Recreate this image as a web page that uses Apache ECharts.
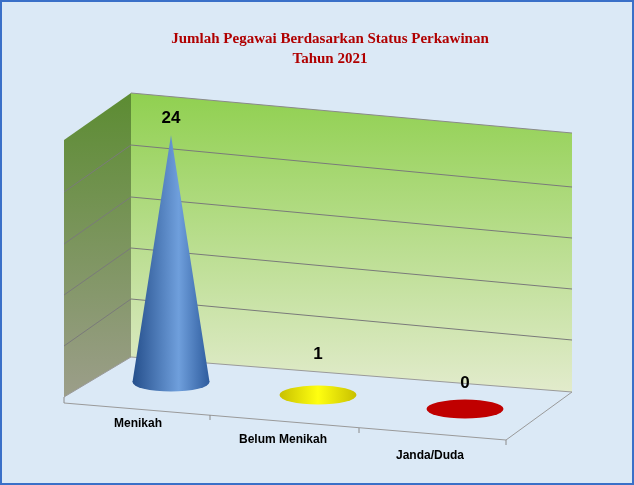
<!DOCTYPE html>
<html><head><meta charset="utf-8">
<script src="https://cdn.jsdelivr.net/npm/echarts@6/dist/echarts.min.js"></script>
<style>html,body{margin:0;padding:0;}#c{width:634px;height:485px;}</style>
</head><body><div id="c"></div>
<script>
const categories = ['Menikah', 'Belum Menikah', 'Janda/Duda'];
const values = [24, 1, 0];
const titleLines = ['Jumlah Pegawai Berdasarkan Status Perkawinan', 'Tahun 2021'];

const chart = echarts.init(document.getElementById('c'));
const lg = (c0, c1, x) => new echarts.graphic.LinearGradient(0, 0, x ? 1 : 0, x ? 0 : 1, [{offset:0,color:c0},{offset:1,color:c1}]);
const coneGrad = new echarts.graphic.LinearGradient(0,0,1,0,[{offset:0,color:'#254f8c'},{offset:0.6,color:'#6f9fdc'},{offset:1,color:'#2e5c9e'}]);
const ellipseColors = [coneGrad, new echarts.graphic.LinearGradient(0,0,1,0,[{offset:0,color:'#c8c000'},{offset:0.5,color:'#ffff10'},{offset:1,color:'#c8c000'}]), '#c00000'];
const ellipseOffsets = [[0,0],[0,13],[0,27]];
const labelOffsets = [[0,0],[0,-41],[0,-26]];
const lineStyle = {stroke:'#8a8a8a', lineWidth:1};
const gridL = [145,197,248,299], gridR = [187,238,289,340];
const graphics = [
  {type:'rect', shape:{x:1,y:1,width:632,height:483}, style:{fill:'#dbe9f6', stroke:'#3a70c8', lineWidth:2}, z:-10},
  {type:'polygon', shape:{points:[[64,140],[131,93],[131,357],[64,397]]}, style:{fill:lg('#5c8c32','#9c9e8a')}, z:-5},
  {type:'polygon', shape:{points:[[131,93],[572,133],[572,392],[131,357]]}, style:{fill:lg('#90d050','#e2ebcc')}, z:-5},
  {type:'polyline', shape:{points:[[131,93],[572,133]]}, style:lineStyle, z:-4},
  {type:'polyline', shape:{points:[[64,397],[131,357],[572,392],[506,440],[64,403]]}, style:{stroke:'#9a9a9a',lineWidth:1,fill:null}, z:-4},
  {type:'polyline', shape:{points:[[64,397],[64,403]]}, style:lineStyle, z:-4},
  {type:'polyline', shape:{points:[[210,415],[210,420]]}, style:lineStyle, z:-4},
  {type:'polyline', shape:{points:[[359,428],[359,433]]}, style:lineStyle, z:-4},
  {type:'polyline', shape:{points:[[506,440],[506,445]]}, style:lineStyle, z:-4}
];
for (let i = 0; i < 4; i++) {
  graphics.push({type:'polyline', shape:{points:[[64,gridL[i]+47],[131,gridL[i]],[572,gridR[i]]]}, style:{stroke:'#7a7a7a',lineWidth:1,fill:null}, z:-4});
}
titleLines.forEach((t, i) => graphics.push({type:'text', x:330, y:32 + i*20, style:{text:t, fill:'#b00000', font:'bold 15px "Liberation Serif"', textAlign:'center'}, z:5}));

const lab = {fontWeight:'bold', fontSize:12, fontFamily:'Liberation Sans', color:'#000'};
const rich = {
  a:Object.assign({padding:[0,66,0,0]}, lab),
  b:Object.assign({padding:[16,70,0,0]}, lab),
  c:Object.assign({padding:[32,70,0,0]}, lab)
};
const valLabel = {fontSize:17, fontWeight:'bold', color:'#000', fontFamily:'Liberation Sans'};
chart.setOption({
  animation:false,
  graphic: graphics,
  grid:{left:97.5, right:95.5, top:135, bottom:103},
  xAxis:{type:'category', data:categories, axisLine:{show:false}, axisTick:{show:false},
    axisLabel:{margin:36, formatter:(v, i) => '{' + 'abc'[i] + '|' + v + '}', rich:rich}},
  yAxis:{type:'value', min:0, max:24, show:false, splitLine:{show:false}},
  series:[
    {type:'scatter', z:2, symbol:'circle', symbolSize:[77,19],
      data: values.map((v, i) => ({value:0, symbolOffset:ellipseOffsets[i], itemStyle:{color:ellipseColors[i], opacity:1},
        label:Object.assign({show:i>0, formatter:String(v), position:'inside', offset:labelOffsets[i]}, valLabel)}))},
    {type:'pictorialBar', z:3, symbol:'path://M50,0 L100,100 L0,100 Z', symbolSize:[77,'100%'], symbolPosition:'start',
      data: values.map((v, i) => i === 0 ? v : '-'),
      itemStyle:{color:coneGrad},
      label:Object.assign({show:true, position:'top', distance:8}, valLabel)}
  ]
});
</script></body></html>
